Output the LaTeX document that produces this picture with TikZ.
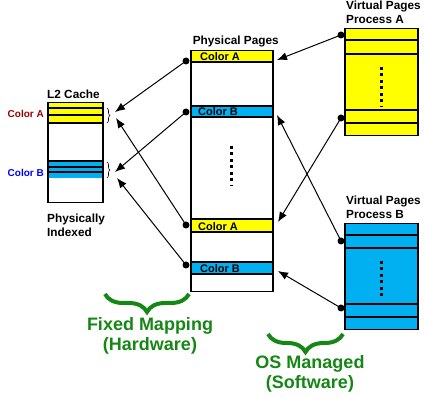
\documentclass[tikz,border=0pt]{standalone}
\usepackage{fontspec}
\setmainfont{Liberation Sans}
\usepackage{xcolor}
\usetikzlibrary{arrows.meta, positioning, decorations.pathreplacing, calc}

\definecolor{bandyellow}{RGB}{255,255,0}
\definecolor{bandblue}{RGB}{0,176,240}
\definecolor{mapgreen}{RGB}{20,135,20}
\definecolor{labelred}{RGB}{153,0,0}

\begin{document}
\begin{tikzpicture}[
    x=1pt, y=-1pt,
    font=\fontsize{11}{14}\selectfont\bfseries,
    >={Latex[length=10pt, width=8pt]},
    frame/.style={
        draw=black,
        line width=1.5pt,
        anchor=north west,
        inner sep=0pt
    },
    rowline/.style={draw=black, line width=1.4pt},
    link/.style={->, line width=1pt},
    gap/.style={line width=3pt, dash pattern=on 3pt off 3.5pt},
    tag/.style={inner sep=0pt, align=left},
    title/.style={tag, font=\fontsize{11.8}{14}\selectfont\bfseries},
    side/.style={tag, font=\fontsize{10}{12}\selectfont\bfseries, anchor=east},
    cachebrace/.style={decorate, decoration={brace, amplitude=3pt}, line width=0.6pt},
    mapbrace/.style={decorate, decoration={brace, mirror, amplitude=18pt}, draw=mapgreen, line width=4pt},
    maptext/.style={text=mapgreen, font=\fontsize{18}{20}\selectfont\bfseries, align=center}
]

\useasboundingbox (0,0) rectangle (424,398);

% L2 cache
\fill[bandyellow] (47,102) rectangle (102,123);
\fill[bandblue] (47,161) rectangle (102,178);
\draw[rowline] (47,108) -- (102,108) (47,115) -- (102,115) (47,123) -- (102,123);
\draw[rowline] (47,161) -- (102,161) (47,167) -- (102,167) (47,172) -- (102,172);
\node[frame, minimum width=55pt, minimum height=100pt] (cache) at (47,102) {};
\node[title, above right=3pt and 0pt of cache.north west] (cachettl) {L2 Cache};
\node[title, below right=10pt and 0pt of cache.south west] (indexed) {Physically\\Indexed};
\node[side, text=labelred] (colA) at (44,114) {Color A};
\node[side, text=blue] (colB) at (44,173) {Color B};
\draw[cachebrace] (107,108) -- (107,123);
\draw[cachebrace] (107,162) -- (107,178);
\coordinate (cacheA1) at (115,112);
\coordinate (cacheA2) at (116,118);
\coordinate (cacheB1) at (115,172);
\coordinate (cacheB2) at (117,178);

% Physical pages
\fill[bandyellow] (190,50) rectangle (272,62);
\fill[bandblue] (190,106) rectangle (272,117);
\fill[bandyellow] (190,219) rectangle (272,232);
\fill[bandblue] (190,262) rectangle (272,274);
\draw[rowline] (190,62) -- (272,62) (190,106) -- (272,106) (190,117) -- (272,117);
\draw[rowline] (190,219) -- (272,219) (190,232) -- (272,232) (190,262) -- (272,262) (190,274) -- (272,274);
\node[frame, minimum width=82pt, minimum height=241pt] (phys) at (190,50) {};
\node[title, above=3pt of phys, xshift=4pt] (physttl) {Physical Pages};
\node[tag, anchor=base west] (physA1) at (200,61) {Color A};
\node[tag, anchor=base west] (physB1) at (198,116) {Color B};
\node[tag, anchor=base west] (physA2) at (198,231) {Color A};
\node[tag, anchor=base west] (physB2) at (200,273) {Color B};
\draw[gap] (231,146) -- (231,186);
\coordinate (pdA1) at (186,61);
\coordinate (pdB1) at (186,112);
\coordinate (pdA2) at (186,225);
\coordinate (pdB2) at (186,265);
\coordinate (physA1in) at (277,60);
\coordinate (physB1in) at (277,115);
\coordinate (physA2in) at (278,222);
\coordinate (physB2in) at (278,271);

% Virtual pages, process A
\fill[bandyellow] (344,28) rectangle (417,135);
\draw[rowline] (344,40) -- (417,40) (344,54) -- (417,54) (344,110) -- (417,110) (344,123) -- (417,123);
\node[frame, minimum width=73pt, minimum height=107pt] (virtA) at (344,28) {};
\node[title, above right=4pt and 2pt of virtA.north west] (virtAttl) {Virtual Pages\\Process A};
\draw[gap] (381,67) -- (381,107);
\coordinate (vdA1) at (341,35);
\coordinate (vdA2) at (341,118);

% Virtual pages, process B
\fill[bandblue] (344,223) rectangle (417,329);
\draw[rowline] (344,235) -- (417,235) (344,248) -- (417,248) (344,304) -- (417,304) (344,317) -- (417,317);
\node[frame, minimum width=73pt, minimum height=106pt] (virtB) at (344,223) {};
\node[title, above right=4pt and 2pt of virtB.north west] (virtBttl) {Virtual Pages\\Process B};
\draw[gap] (381,261) -- (381,300);
\coordinate (vdB1) at (341,241);
\coordinate (vdB2) at (341,308);

% mappings
\foreach \d in {pdA1, pdB1, pdA2, pdB2, vdA1, vdA2, vdB1, vdB2}
    \fill (\d) circle[radius=3.5pt];
\draw[link] (pdA1) -- (cacheA1);
\draw[link] (pdB1) -- (cacheB1);
\draw[link] (pdA2) -- (cacheA2);
\draw[link] (pdB2) -- (cacheB2);
\draw[link] (vdA1) -- (physA1in);
\draw[link] (vdA2) -- (physA2in);
\draw[link] (vdB1) -- (physB1in);
\draw[link] (vdB2) -- (physB2in);

% hardware / software
\draw[mapbrace] (105,294) -- (189,294);
\node[maptext] (fixed) at (150,336) {Fixed Mapping\\(Hardware)};
\draw[mapbrace] (268,334) -- (343,334);
\node[maptext] (osman) at (310,374) {OS Managed\\(Software)};

\end{tikzpicture}
\end{document}
